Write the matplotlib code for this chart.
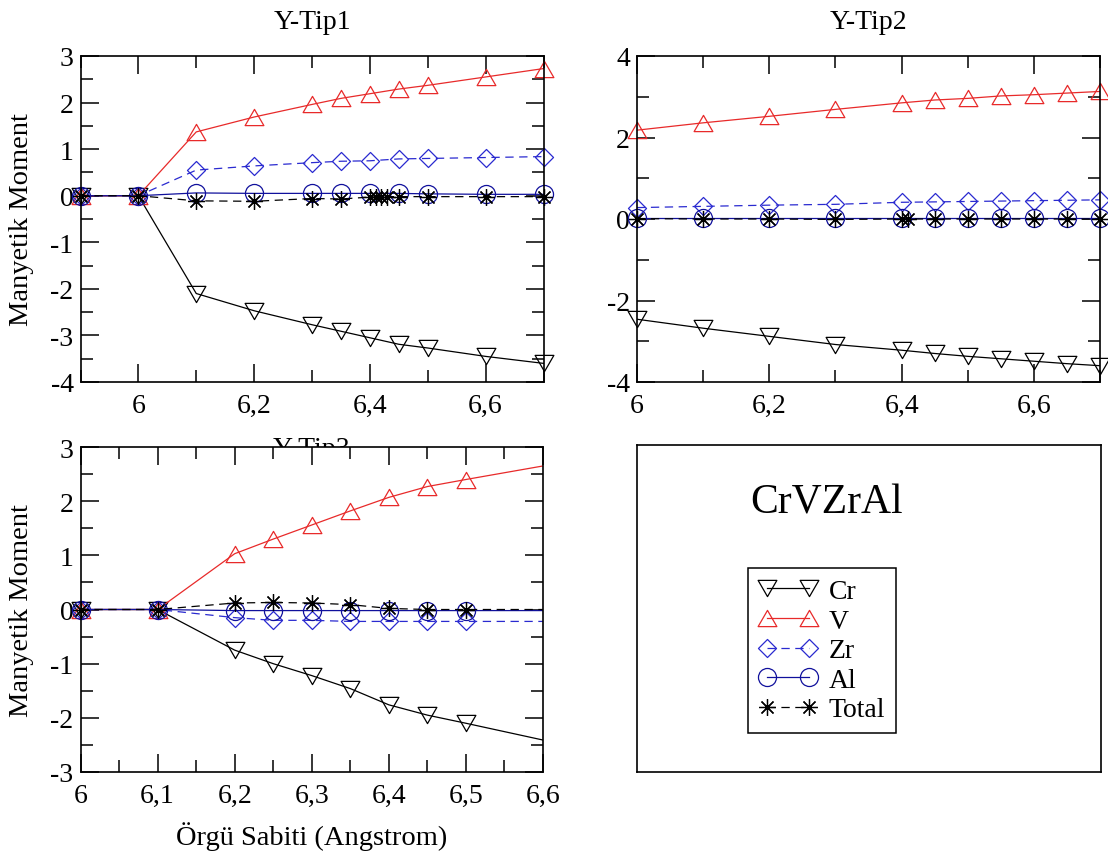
import numpy as np
import matplotlib
matplotlib.use("Agg")
import matplotlib.pyplot as plt
from matplotlib.lines import Line2D
from matplotlib.path import Path
from matplotlib.ticker import MultipleLocator, FuncFormatter

plt.rcParams['font.family'] = ['Liberation Serif', 'DejaVu Serif']
plt.rcParams['lines.scale_dashes'] = False

# ---- Y-Tip1 ----
t1_x = [5.9, 6.0, 6.1, 6.2, 6.3, 6.35, 6.4, 6.45, 6.5, 6.6, 6.7]
t1_cr = [0, 0, -2.10, -2.47, -2.77, -2.91, -3.05, -3.19, -3.27, -3.45, -3.60]
t1_v = [0, 0, 1.37, 1.69, 1.96, 2.09, 2.19, 2.29, 2.37, 2.55, 2.73]
t1_zr = [0, 0, 0.55, 0.64, 0.71, 0.74, 0.75, 0.79, 0.80, 0.82, 0.84]
t1_al = [0, 0, 0.06, 0.05, 0.05, 0.05, 0.05, 0.05, 0.04, 0.03, 0.03]
t1_tot_x = [5.9, 6.0, 6.1, 6.2, 6.3, 6.35, 6.4, 6.41, 6.42, 6.43, 6.45, 6.5, 6.6, 6.7]
t1_tot = [0, 0, -0.11, -0.12, -0.06, -0.07, -0.03, -0.03, -0.02, -0.02, -0.02, -0.02, -0.02, -0.02]

# ---- Y-Tip2 ----
t2_x = [6.0, 6.1, 6.2, 6.3, 6.4, 6.45, 6.5, 6.55, 6.6, 6.65, 6.7]
t2_cr = [-2.46, -2.68, -2.88, -3.08, -3.22, -3.30, -3.37, -3.43, -3.49, -3.55, -3.60]
t2_v = [2.18, 2.36, 2.52, 2.69, 2.85, 2.92, 2.96, 3.02, 3.05, 3.09, 3.13]
t2_zr = [0.28, 0.31, 0.34, 0.36, 0.41, 0.42, 0.43, 0.44, 0.45, 0.46, 0.47]
t2_al = [0.02, 0.02, 0.02, 0.02, 0.02, 0.02, 0.02, 0.02, 0.02, 0.02, 0.02]
t2_tot_x = [6.0, 6.1, 6.2, 6.3, 6.4, 6.41, 6.45, 6.5, 6.55, 6.6, 6.65, 6.7]
t2_tot = [0.01, 0.0, 0.0, -0.01, 0.0, 0.0, 0.0, 0.0, 0.0, 0.0, 0.0, 0.0]

# ---- Y-Tip3 ----
t3_x = [6.0, 6.1, 6.2, 6.25, 6.3, 6.35, 6.4, 6.45, 6.5, 6.7]
t3_cr = [0, 0, -0.75, -1.00, -1.22, -1.46, -1.76, -1.95, -2.10, -2.72]
t3_v = [0, 0, 1.03, 1.30, 1.56, 1.82, 2.07, 2.27, 2.40, 2.90]
t3_zr = [0, 0, -0.15, -0.20, -0.20, -0.22, -0.22, -0.22, -0.22, -0.22]
t3_al = [0, 0, -0.02, -0.02, -0.02, -0.02, -0.02, -0.02, -0.02, -0.02]
t3_tot = [0, 0, 0.12, 0.13, 0.12, 0.09, 0.02, 0.0, 0.0, 0.0]

series_names = ["Cr", "V", "Zr", "Al", "Total"]
compound = "CrVZrAl"
panel_titles = ["Y-Tip1", "Y-Tip2", "Y-Tip3"]
ylabel_text = "Manyetik Moment"
xlabel_text = "Örgü Sabiti (Angstrom)"

# marker shapes
TRI_UP = Path([(0, 0.866), (-1, -0.866), (1, -0.866), (0, 0)], closed=True)
TRI_DN = Path([(0, -0.866), (-1, 0.866), (1, 0.866), (0, 0)], closed=True)
DIAM = Path([(0, 1), (1, 0), (0, -1), (-1, 0), (0, 0)], closed=True)
STAR = (8, 2, 0)

LW = 0.9
DASH = (6, 4)
styles = {
    "Cr": dict(color="black", ls="-", marker=TRI_DN, ms=13.5),
    "V": dict(color="#e82a2a", ls="-", marker=TRI_UP, ms=13.5),
    "Zr": dict(color="#2a2ad0", ls="--", marker=DIAM, ms=13),
    "Al": dict(color="#10109c", ls="-", marker="o", ms=13),
    "Total": dict(color="black", ls="--", marker=STAR, ms=12),
}


def draw_series(ax, name, x, y, xmax):
    st = styles[name]
    x = np.asarray(x, dtype=float)
    y = np.asarray(y, dtype=float)
    kw = dict(color=st["color"], lw=LW)
    if st["ls"] == "--":
        kw["dashes"] = DASH
    ax.plot(x, y, **kw)
    inside = x <= xmax + 1e-9
    ax.plot(x[inside], y[inside], ls="none", marker=st["marker"], ms=st["ms"],
            mfc="none", mec=st["color"], mew=LW, clip_on=False)


def legend_handle(name):
    st = styles[name]
    kw = dict(color=st["color"], lw=LW, marker=st["marker"], ms=st["ms"],
              mfc="none", mec=st["color"], mew=LW)
    if st["ls"] == "--":
        kw["dashes"] = DASH
    return Line2D([], [], **kw)


def comma_fmt(v, pos):
    if abs(v) < 1e-9:
        return "0"
    s = f"{v:.2f}".rstrip("0").rstrip(".")
    return s.replace(".", ",")


W, H = 1108, 854
fig = plt.figure(figsize=(W / 100, H / 100), dpi=100)


def px_axes(left, right, top, bottom):
    return fig.add_axes([left / W, 1 - bottom / H, (right - left) / W, (bottom - top) / H])


def style_axes(ax, xlim, ylim, xmaj, xmin, ymaj, ymin):
    ax.set_xlim(*xlim)
    ax.set_ylim(*ylim)
    ax.xaxis.set_major_locator(MultipleLocator(xmaj))
    ax.xaxis.set_minor_locator(MultipleLocator(xmin))
    ax.yaxis.set_major_locator(MultipleLocator(ymaj))
    ax.yaxis.set_minor_locator(MultipleLocator(ymin))
    ax.xaxis.set_major_formatter(FuncFormatter(comma_fmt))
    ax.yaxis.set_major_formatter(FuncFormatter(comma_fmt))
    ax.tick_params(which="both", direction="in", top=True, right=True,
                   width=1.1, labelsize=20)
    ax.tick_params(which="major", length=13)
    ax.tick_params(which="minor", length=8.5)
    ax.tick_params(axis="x", pad=8)
    ax.tick_params(axis="y", pad=5)
    for sp in ax.spines.values():
        sp.set_linewidth(1.2)


ax1 = px_axes(80.5, 543.5, 57, 383)
ax2 = px_axes(637, 1100, 57, 383)
ax3 = px_axes(80.5, 543, 448, 773)

style_axes(ax1, (5.9, 6.7), (-4, 3), 0.2, 0.1, 1, 0.5)
style_axes(ax2, (6.0, 6.7), (-4, 4), 0.2, 0.1, 2, 1)
style_axes(ax3, (6.0, 6.6), (-3, 3), 0.1, 0.05, 1, 0.5)

for ax, xs, cr, v, zr, al, tx, tot, xmax in [
    (ax1, t1_x, t1_cr, t1_v, t1_zr, t1_al, t1_tot_x, t1_tot, 6.7),
    (ax2, t2_x, t2_cr, t2_v, t2_zr, t2_al, t2_tot_x, t2_tot, 6.7),
    (ax3, t3_x, t3_cr, t3_v, t3_zr, t3_al, t3_x, t3_tot, 6.6),
]:
    draw_series(ax, "Cr", xs, cr, xmax)
    draw_series(ax, "V", xs, v, xmax)
    draw_series(ax, "Zr", xs, zr, xmax)
    draw_series(ax, "Al", xs, al, xmax)
    draw_series(ax, "Total", tx, tot, xmax)

ax1.set_title(panel_titles[0], fontsize=20, pad=20)
ax2.set_title(panel_titles[1], fontsize=20, pad=20)
# third title sits behind the plotting area
fig.text((80.5 + 543) / 2 / W, 1 - 456 / H, panel_titles[2], fontsize=20,
         ha="center", va="baseline", zorder=-1)

for ax in (ax1, ax3):
    ax.set_ylabel(ylabel_text, fontsize=20.5)
    ax.yaxis.set_label_coords(-0.127, 0.5)
    ax.yaxis.label.set_verticalalignment("center")

ax3.set_xlabel(xlabel_text, fontsize=20.5)
ax3.xaxis.set_label_coords(0.5, -0.195)
ax3.xaxis.label.set_verticalalignment("center")

# key panel
axk = px_axes(637, 1101, 446, 773)
axk.set_xticks([])
axk.set_yticks([])
for sp in axk.spines.values():
    sp.set_linewidth(1.2)
fig.text(827 / W, 1 - 503 / H, compound, fontsize=30, ha="center", va="center")
leg = axk.legend([legend_handle(n) for n in series_names], series_names,
                 loc="upper left", bbox_to_anchor=(748 / W, 1 - 569 / H),
                 bbox_transform=fig.transFigure, fontsize=20, numpoints=2,
                 handlelength=2.1, handletextpad=0.42, borderpad=0.38,
                 labelspacing=0.15, borderaxespad=0, fancybox=False,
                 framealpha=1, edgecolor="black")
leg.get_frame().set_linewidth(1.1)

fig.savefig("out.png", dpi=100, facecolor="white")
